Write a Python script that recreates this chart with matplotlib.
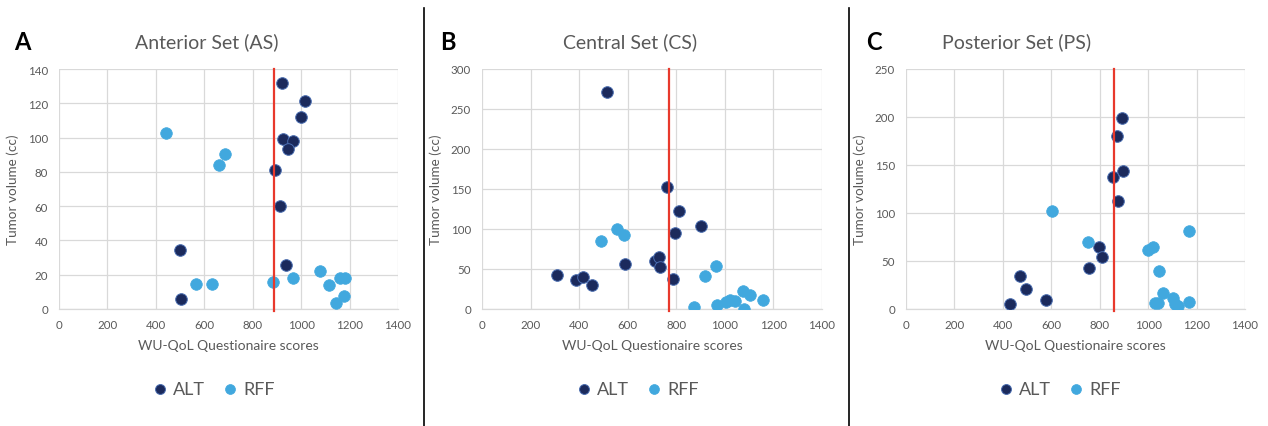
import matplotlib
matplotlib.use("Agg")
import matplotlib.pyplot as plt
from matplotlib.lines import Line2D

plt.rcParams['font.family'] = ['Lato', 'DejaVu Sans']

# ---------------- data ----------------
titles = ["Anterior Set (AS)", "Central Set (CS)", "Posterior Set (PS)"]
panel_letters = ["A", "B", "C"]
series_names = ["ALT", "RFF"]
x_label = "WU-QoL Questionaire scores"
y_label = "Tumor volume (cc)"
x_ticks = [0, 200, 400, 600, 800, 1000, 1200, 1400]
y_max = [140, 300, 250]
y_step = [20, 50, 50]
cutoffs = [889, 772, 858]

as_alt_x = [920, 1015, 998, 924, 966, 944, 892, 911, 498, 936, 505]
as_alt_y = [131.8, 121.4, 112.2, 99.0, 97.9, 93.6, 81.0, 59.8, 34.6, 25.8, 6.0]
as_rff_x = [443, 684, 659, 564, 633, 884, 968, 1079, 1115, 1159, 1181, 1176, 1145]
as_rff_y = [102.9, 90.3, 83.9, 14.6, 14.6, 15.7, 18.3, 22.3, 13.8, 18.3, 18.1, 7.4, 3.7]

cs_alt_x = [516, 762, 812, 794, 900, 587, 714, 728, 732, 788, 310, 386, 414, 454]
cs_alt_y = [270.8, 153.0, 122.1, 95.0, 103.5, 55.8, 60.0, 65.0, 52.0, 37.0, 42.8, 36.4, 39.4, 29.7]
cs_rff_x = [492, 556, 583, 873, 917, 964, 967, 1004, 1022, 1041, 1073, 1103, 1079, 1159]
cs_rff_y = [85.0, 100.5, 92.5, 3.0, 41.0, 53.5, 5.1, 9.0, 11.4, 9.7, 22.5, 16.9, 0.5, 11.0]

ps_alt_x = [891, 870, 854, 895, 874, 798, 808, 757, 469, 496, 577, 431]
ps_alt_y = [198.6, 179.9, 137.8, 143.7, 112.1, 64.2, 53.8, 42.4, 34.0, 20.8, 9.7, 5.2]
ps_rff_x = [604, 750, 998, 1021, 1043, 1170, 1060, 1030, 1042, 1101, 1111, 1124, 1170]
ps_rff_y = [101.7, 70.1, 61.5, 64.2, 39.2, 80.9, 16.5, 6.0, 6.0, 11.7, 4.9, 2.8, 7.6]

alt_x = [as_alt_x, cs_alt_x, ps_alt_x]
alt_y = [as_alt_y, cs_alt_y, ps_alt_y]
rff_x = [as_rff_x, cs_rff_x, ps_rff_x]
rff_y = [as_rff_y, cs_rff_y, ps_rff_y]

# ---------------- styles ----------------
W, H = 1268, 427
fig = plt.figure(figsize=(W / 100, H / 100), dpi=100)
fig.patch.set_facecolor("white")

dark = "#1b2a5c"
light = "#41a8de"
red = "#e8392c"
grey_txt = "#595959"
grid_c = "#d9d9d9"

axes_left_px = [59, 482, 906]
axes_right_px = [398, 822, 1245]
axes_top_px, axes_bot_px = 70, 310
title_cx = [207, 630, 1017]
letter_x = [14, 440, 866]
panel_cx = [212, 636, 1058]

for i in range(3):
    l = axes_left_px[i] / W
    w = (axes_right_px[i] - axes_left_px[i]) / W
    b = 1 - axes_bot_px / H
    h = (axes_bot_px - axes_top_px) / H
    ax = fig.add_axes([l, b, w, h])
    ax.set_xlim(0, 1400)
    ax.set_ylim(0, y_max[i])
    ax.set_xticks(x_ticks)
    ax.set_yticks(list(range(0, y_max[i] + 1, y_step[i])))
    ax.grid(True, color=grid_c, linewidth=0.9)
    ax.set_axisbelow(True)
    for s in ["top", "right", "left"]:
        ax.spines[s].set_visible(False)
    ax.spines["bottom"].set_color(grid_c)
    ax.spines["bottom"].set_linewidth(0.9)
    ax.tick_params(length=0, labelsize=8.3, labelcolor=grey_txt)
    ax.tick_params(axis="y", pad=8)
    ax.tick_params(axis="x", pad=7)

    ax.scatter(alt_x[i], alt_y[i], s=70, color=dark, edgecolors="#4a6db0",
               linewidths=0.7, zorder=3, label=series_names[0])
    ax.scatter(rff_x[i], rff_y[i], s=70, color=light, edgecolors=light,
               linewidths=0.5, zorder=3, label=series_names[1])
    ax.axvline(cutoffs[i], color=red, linewidth=1.6, zorder=4, ymin=-0.01, ymax=1.0,
               clip_on=False)

    ax.set_xlabel(x_label, fontsize=10, color=grey_txt, labelpad=7)
    ax.set_ylabel(y_label, fontsize=9.7, color=grey_txt, labelpad=6)

    fig.text(title_cx[i] / W, 1 - 42 / H, titles[i], ha="center", va="center",
             fontsize=14, color=grey_txt)
    fig.text(letter_x[i] / W, 1 - 42 / H, panel_letters[i], ha="left", va="center",
             fontsize=17, fontweight="bold", color="black")

    ax.legend(loc="center", bbox_to_anchor=(panel_cx[i] / W, 1 - 390 / H),
              bbox_transform=fig.transFigure, ncol=2, frameon=False,
              fontsize=13, labelcolor=grey_txt, markerscale=0.85,
              handletextpad=0.1, columnspacing=0.8, handlelength=1.2)

for xs in [424, 849]:
    fig.add_artist(Line2D([xs / W, xs / W], [0, 1 - 9 / H], color="black",
                          linewidth=1.2, transform=fig.transFigure))

fig.savefig("out.png", dpi=100, facecolor="white")
